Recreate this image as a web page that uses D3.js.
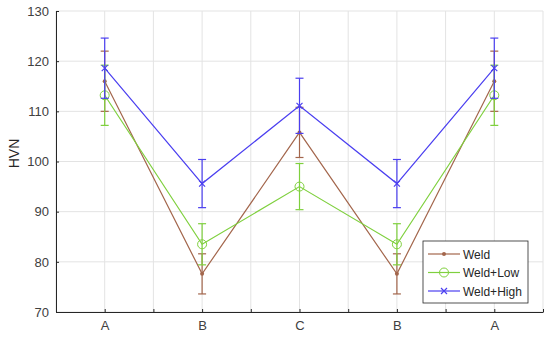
<!DOCTYPE html>
<html>
<head>
<meta charset="utf-8">
<script src="https://cdn.jsdelivr.net/npm/d3@7"></script>
<style>
  body { margin: 0; background: #fff; }
  text { font-family: "Liberation Sans", Arial, sans-serif; }
</style>
</head>
<body>
<div id="plot"></div>
<script>
// positions along the path (same welds revisited)
const positions = ["A", "B", "C", "B", "A"];

const weld = [116, 77.6, 105.8, 77.6, 116];
const weldErr = [6, 4, 5, 4, 6];

const weldLow = [113.2, 83.5, 95, 83.5, 113.2];
const weldLowErr = [6, 4.1, 4.6, 4.1, 6];

const weldHigh = [118.6, 95.6, 111.1, 95.6, 118.6];
const weldHighErr = [6, 4.8, 5.5, 4.8, 6];

const yTicks = [70, 80, 90, 100, 110, 120, 130];

const series = [
  { name: "Weld", values: weld, err: weldErr, color: "#a3664c", marker: "dot" },
  { name: "Weld+Low", values: weldLow, err: weldLowErr, color: "#7fd03e", marker: "circle" },
  { name: "Weld+High", values: weldHigh, err: weldHighErr, color: "#4b3ff0", marker: "cross" }
];

const margin = { top: 11, right: 7, bottom: 27, left: 56 };
const width = 550 - margin.left - margin.right;
const height = 339 - margin.top - margin.bottom;

const svg = d3.select("#plot")
  .append("svg")
  .attr("width", 550)
  .attr("height", 339)
  .append("g")
  .attr("transform", `translate(${margin.left},${margin.top})`);

const x = d3.scaleLinear().domain([0.5, positions.length + 0.5]).range([0, width]);
const y = d3.scaleLinear().domain([70, 130]).range([height, 0]);

const xGrid = d3.range(0.5, positions.length + 0.51, 0.5);

// grid
svg.append("g")
  .selectAll("line.xg")
  .data(xGrid)
  .join("line")
  .attr("x1", d => x(d)).attr("x2", d => x(d))
  .attr("y1", 0).attr("y2", height)
  .attr("stroke", "#e3e3e3");

svg.append("g")
  .selectAll("line.yg")
  .data(yTicks)
  .join("line")
  .attr("x1", 0).attr("x2", width)
  .attr("y1", d => y(d)).attr("y2", d => y(d))
  .attr("stroke", "#e3e3e3");

// axes
const xAxis = svg.append("g")
  .attr("transform", `translate(0,${height})`)
  .call(d3.axisBottom(x)
    .tickValues(xGrid)
    .tickSizeInner(-3).tickSizeOuter(0).tickPadding(9)
    .tickFormat(d => Number.isInteger(d) ? positions[d - 1] : ""));

const yAxis = svg.append("g")
  .call(d3.axisLeft(y)
    .tickValues(yTicks)
    .tickSizeInner(-3).tickSizeOuter(0).tickPadding(7));

[xAxis, yAxis].forEach(a => {
  a.select(".domain").attr("stroke", "#262626");
  a.selectAll(".tick line").attr("stroke", "#262626");
  a.selectAll("text").attr("fill", "#404040").attr("font-size", 13);
});

svg.append("text")
  .attr("transform", "rotate(-90)")
  .attr("x", -height / 2 + 8)
  .attr("y", -37)
  .attr("text-anchor", "middle")
  .attr("fill", "#262626")
  .attr("font-size", 14)
  .text("HVN");

const line = d3.line()
  .x((d, i) => x(i + 1))
  .y(d => y(d));

function drawMarker(g, type, color) {
  if (type === "dot") {
    g.append("circle").attr("r", 2).attr("fill", color);
  } else if (type === "circle") {
    g.append("circle").attr("r", 4.5).attr("fill", "none").attr("stroke", color).attr("stroke-width", 1);
  } else {
    g.append("path").attr("d", "M-3,-3L3,3M-3,3L3,-3")
      .attr("stroke", color).attr("stroke-width", 1.2);
  }
}

series.forEach(s => {
  const g = svg.append("g");
  g.append("path")
    .datum(s.values)
    .attr("fill", "none")
    .attr("stroke", s.color)
    .attr("stroke-width", 1.2)
    .attr("d", line);

  s.values.forEach((v, i) => {
    const cx = x(i + 1);
    const lo = y(v - s.err[i]);
    const hi = y(v + s.err[i]);
    g.append("line").attr("x1", cx).attr("x2", cx).attr("y1", lo).attr("y2", hi)
      .attr("stroke", s.color).attr("stroke-width", 1.2);
    [lo, hi].forEach(yy => {
      g.append("line").attr("x1", cx - 4).attr("x2", cx + 4).attr("y1", yy).attr("y2", yy)
        .attr("stroke", s.color).attr("stroke-width", 1.2);
    });
    const m = g.append("g").attr("transform", `translate(${cx},${y(v)})`);
    drawMarker(m, s.marker, s.color);
  });
});

// legend
const legend = svg.append("g").attr("transform", `translate(${423 - margin.left},${241 - margin.top})`);
legend.append("rect")
  .attr("width", 105).attr("height", 62)
  .attr("fill", "#fff").attr("stroke", "#262626").attr("stroke-width", 0.8);

series.forEach((s, i) => {
  const ly = 13 + i * 18.5;
  legend.append("line").attr("x1", 5).attr("x2", 37).attr("y1", ly).attr("y2", ly)
    .attr("stroke", s.color).attr("stroke-width", 1.2);
  drawMarker(legend.append("g").attr("transform", `translate(21,${ly})`), s.marker, s.color);
  legend.append("text")
    .attr("x", 40).attr("y", ly + 4.5)
    .attr("font-size", 12).attr("fill", "#262626")
    .text(s.name);
});
</script>
</body>
</html>
